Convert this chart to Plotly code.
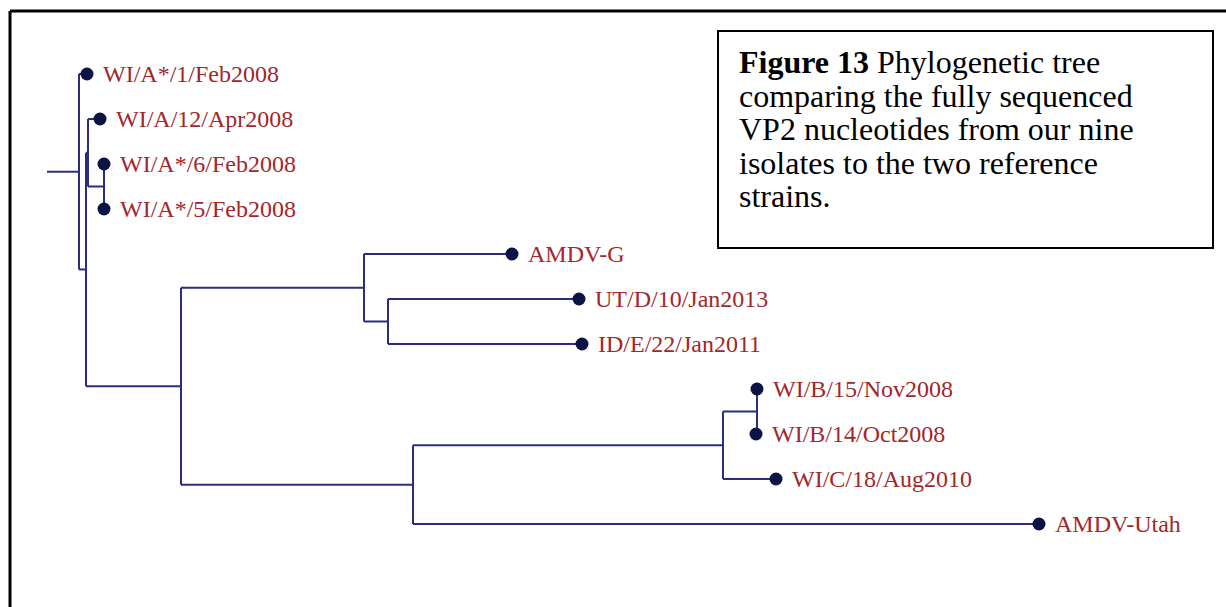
import plotly.graph_objects as go

# ---- tree data ----
node_names = ["root", "WI/A*/1/Feb2008", "n1", "nA", "WI/A/12/Apr2008", "nA56",
              "WI/A*/6/Feb2008", "WI/A*/5/Feb2008", "nBig", "nG", "AMDV-G", "nUI",
              "UT/D/10/Jan2013", "ID/E/22/Jan2011", "nU", "nBC", "nB",
              "WI/B/15/Nov2008", "WI/B/14/Oct2008", "WI/C/18/Aug2010", "AMDV-Utah"]
node_parents = [None, "root", "root", "n1", "nA", "nA", "nA56", "nA56", "n1", "nBig",
                "nG", "nG", "nUI", "nUI", "nBig", "nU", "nBC", "nB", "nB", "nBC", "nU"]
node_depths = [0.000, 0.008, 0.007, 0.009, 0.021, 0.025, 0.025, 0.025, 0.102, 0.285,
               0.433, 0.309, 0.500, 0.503, 0.334, 0.644, 0.678, 0.678, 0.677, 0.697, 0.960]
leaf_order = ["WI/A*/1/Feb2008", "WI/A/12/Apr2008", "WI/A*/6/Feb2008", "WI/A*/5/Feb2008",
              "AMDV-G", "UT/D/10/Jan2013", "ID/E/22/Jan2011", "WI/B/15/Nov2008",
              "WI/B/14/Oct2008", "WI/C/18/Aug2010", "AMDV-Utah"]
root_stub = 0.032

caption_lines = ["<b>Figure 13</b> Phylogenetic tree",
                 "comparing the fully sequenced",
                 "VP2 nucleotides from our nine",
                 "isolates to the two reference",
                 "strains."]

# ---- layout of tree ----
depth = dict(zip(node_names, node_depths))
parent = dict(zip(node_names, node_parents))
children = {n: [] for n in node_names}
for n, p in parent.items():
    if p is not None:
        children[p].append(n)
ypos = {}
def gety(n):
    if n in ypos:
        return ypos[n]
    if not children[n]:
        ypos[n] = leaf_order.index(n)
    else:
        cy = [gety(c) for c in children[n]]
        ypos[n] = (min(cy) + max(cy)) / 2
    return ypos[n]
for n in node_names:
    gety(n)

lx, ly = [], []
# root stub
lx += [depth["root"] - root_stub, depth["root"], None]
ly += [ypos["root"], ypos["root"], None]
for n in node_names:
    p = parent[n]
    if p is not None:
        lx += [depth[p], depth[n], None]
        ly += [ypos[n], ypos[n], None]
    if children[n]:
        cy = [ypos[c] for c in children[n]]
        lx += [depth[n], depth[n], None]
        ly += [min(cy), max(cy), None]

LINE = "#2b2c80"
DOT = "#0b1545"
RED = "#a3262a"

fig = go.Figure()
fig.add_trace(go.Scatter(x=lx, y=ly, mode="lines",
                         line=dict(color=LINE, width=2), hoverinfo="skip"))
fig.add_trace(go.Scatter(x=[depth[n] for n in leaf_order], y=[ypos[n] for n in leaf_order],
                         mode="markers", marker=dict(color=DOT, size=13), hoverinfo="skip"))

for n in leaf_order:
    fig.add_annotation(x=depth[n], y=ypos[n], text=n, showarrow=False,
                       xanchor="left", yanchor="middle", xshift=14, yshift=0,
                       font=dict(family="Liberation Serif", size=24, color=RED))

# caption box
fig.add_shape(type="rect", xref="paper", yref="paper",
              x0=718/1226, x1=1213/1226, y0=1-31/607, y1=1-248/607,
              line=dict(color="black", width=2))
for i, t in enumerate(caption_lines):
    fig.add_annotation(xref="paper", yref="paper", x=737/1226, y=1-(62+33.6*i)/607,
                       text=t, showarrow=False, xanchor="left", yanchor="middle",
                       font=dict(family="Liberation Serif", size=32, color="black"))

# outer frame (top and left)
fig.add_shape(type="line", xref="paper", yref="paper", x0=10/1226, x1=1.01,
              y0=1-11/607, y1=1-11/607, line=dict(color="black", width=3))
fig.add_shape(type="line", xref="paper", yref="paper", x0=10/1226, x1=10/1226,
              y0=1-11/607, y1=-0.01, line=dict(color="black", width=3))

fig.update_xaxes(range=[-0.079, 1.147], visible=False, fixedrange=True)
fig.update_yaxes(range=[(607-74)/45, -74/45], visible=False, fixedrange=True)
fig.update_layout(width=1226, height=607, margin=dict(l=0, r=0, t=0, b=0),
                  plot_bgcolor="white", paper_bgcolor="white", showlegend=False)

fig.write_html("out.html", config={"displayModeBar": False},
               post_script="document.body.style.margin='0px';")
